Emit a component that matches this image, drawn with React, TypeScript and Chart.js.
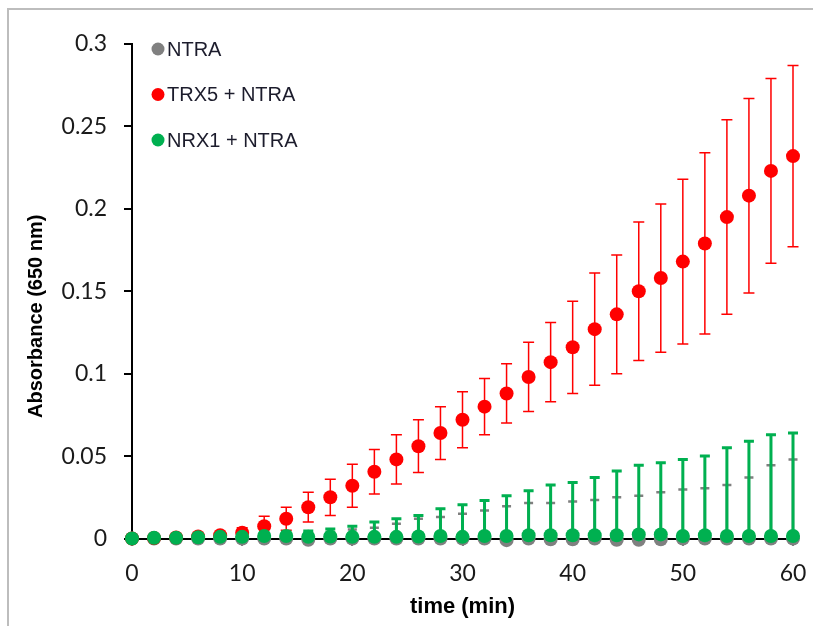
import React, { useEffect, useRef } from "react";
import { Chart, registerables } from "chart.js";

Chart.register(...registerables);

// ---- data ----
const times = [0, 2, 4, 6, 8, 10, 12, 14, 16, 18, 20, 22, 24, 26, 28, 30, 32, 34, 36, 38, 40, 42, 44, 46, 48, 50, 52, 54, 56, 58, 60];

const seriesLabels = ["NTRA", "TRX5 + NTRA", "NRX1 + NTRA"];

const ntraMean = [0, 0, 0, 0, 0, 0, 0, 0, -0.0008, 0, 0, 0, 0, 0, 0, 0, 0, -0.001, 0, -0.0005, -0.0005, 0, -0.0008, -0.0008, -0.0005, 0, 0, 0, 0, 0, 0];
const ntraErr = [0, 0.0003, 0.0005, 0.0008, 0.001, 0.0015, 0.002, 0.0025, 0.0035, 0.004, 0.0055, 0.0065, 0.009, 0.012, 0.013, 0.015, 0.017, 0.0206, 0.0216, 0.022, 0.023, 0.0234, 0.0258, 0.0268, 0.0285, 0.0297, 0.0305, 0.0325, 0.037, 0.0444, 0.048];

const trx5Mean = [0, 0.0003, 0.0006, 0.0012, 0.002, 0.0035, 0.0075, 0.012, 0.019, 0.025, 0.032, 0.0405, 0.048, 0.056, 0.064, 0.072, 0.08, 0.088, 0.098, 0.107, 0.116, 0.127, 0.136, 0.15, 0.158, 0.168, 0.179, 0.195, 0.208, 0.223, 0.232];
const trx5Err = [0, 0.0003, 0.0005, 0.001, 0.0015, 0.003, 0.006, 0.007, 0.009, 0.011, 0.013, 0.0135, 0.015, 0.016, 0.016, 0.017, 0.017, 0.018, 0.021, 0.024, 0.028, 0.034, 0.036, 0.042, 0.045, 0.05, 0.055, 0.059, 0.059, 0.056, 0.055];

const nrx1Mean = [0, 0.0005, 0.0005, 0.0008, 0.001, 0.001, 0.0015, 0.0015, 0.001, 0.0012, 0.001, 0.001, 0.001, 0.0012, 0.0015, 0.001, 0.0015, 0.0015, 0.002, 0.002, 0.002, 0.002, 0.002, 0.0025, 0.0025, 0.0015, 0.002, 0.0015, 0.0015, 0.0015, 0.0015];
const nrx1Err = [0, 0.0005, 0.0005, 0.0008, 0.001, 0.0012, 0.002, 0.0025, 0.0035, 0.0045, 0.0065, 0.009, 0.011, 0.0128, 0.0165, 0.0195, 0.0215, 0.0245, 0.027, 0.0305, 0.032, 0.035, 0.039, 0.042, 0.0435, 0.0465, 0.048, 0.0535, 0.0575, 0.0615, 0.0625];

const xTicks = [0, 10, 20, 30, 40, 50, 60];
const yTicks = [0, 0.05, 0.1, 0.15, 0.2, 0.25, 0.3];

const xTitle = "time (min)";
const yTitle = "Absorbance (650 nm)";

// ---- plugins ----
const errorBarPlugin = {
  id: "errorBars",
  beforeDatasetsDraw(chart: any) {
    const { ctx } = chart;
    const yScale = chart.scales.y;
    const order = [0, 1, 2];
    for (const i of order) {
      const ds = chart.data.datasets[i];
      const meta = chart.getDatasetMeta(i);
      if (!ds || !meta || meta.hidden) continue;
      const errs: number[] = ds.errors;
      ctx.save();
      ctx.strokeStyle = ds.errorColor;
      ctx.lineWidth = ds.errorWidth;
      ctx.lineCap = "butt";
      meta.data.forEach((pt: any, j: number) => {
        const e = errs[j];
        if (!e) return;
        const v = ds.data[j].y;
        const x = pt.x;
        const yc = yScale.getPixelForValue(v);
        const yTop = yScale.getPixelForValue(v + e);
        const yBot = ds.plusOnly ? yc : yScale.getPixelForValue(v - e);
        const cw = ds.capHalf;
        ctx.beginPath();
        ctx.moveTo(x, yBot);
        ctx.lineTo(x, yTop);
        ctx.moveTo(x - cw, yTop);
        ctx.lineTo(x + cw, yTop);
        if (!ds.plusOnly) {
          ctx.moveTo(x - cw, yBot);
          ctx.lineTo(x + cw, yBot);
        }
        ctx.stroke();
      });
      ctx.restore();
    }
  },
};

const legendPlugin = {
  id: "innerLegend",
  afterDraw(chart: any) {
    const { ctx, chartArea } = chart;
    ctx.save();
    ctx.font = "20px 'Liberation Sans', Arial, sans-serif";
    ctx.textBaseline = "middle";
    ctx.textAlign = "left";
    chart.data.datasets.forEach((ds: any, i: number) => {
      const cy = chartArea.top + 5 + i * 45.5;
      const cx = chartArea.left + 26;
      ctx.beginPath();
      ctx.fillStyle = ds.backgroundColor;
      ctx.arc(cx, cy, 6.5, 0, Math.PI * 2);
      ctx.fill();
      ctx.fillStyle = "#1c1c2c";
      ctx.fillText(ds.label, cx + 9, cy + 1);
    });
    ctx.restore();
  },
};

export default function App() {
  const canvasRef = useRef<HTMLCanvasElement | null>(null);

  useEffect(() => {
    const canvas = canvasRef.current;
    if (!canvas) return;

    const mk = (ys: number[]) => times.map((t, i) => ({ x: t, y: ys[i] }));

    const chart = new Chart(canvas, {
      type: "scatter",
      data: {
        datasets: [
          {
            label: seriesLabels[0],
            data: mk(ntraMean),
            backgroundColor: "#808080",
            borderColor: "#808080",
            pointRadius: 7,
            pointBorderWidth: 0,
            pointHoverRadius: 7,
            clip: false,
            order: 3,
            errors: ntraErr,
            errorColor: "#7f7f7f",
            errorWidth: 2.5,
            capHalf: 4.5,
            plusOnly: true,
          } as any,
          {
            label: seriesLabels[1],
            data: mk(trx5Mean),
            backgroundColor: "#ff0000",
            borderColor: "#ff0000",
            pointRadius: 7,
            pointBorderWidth: 0,
            pointHoverRadius: 7,
            clip: false,
            order: 2,
            errors: trx5Err,
            errorColor: "#ff0000",
            errorWidth: 1.5,
            capHalf: 5.5,
            plusOnly: false,
          } as any,
          {
            label: seriesLabels[2],
            data: mk(nrx1Mean),
            backgroundColor: "#00b050",
            borderColor: "#00b050",
            pointRadius: 7,
            pointBorderWidth: 0,
            pointHoverRadius: 7,
            clip: false,
            order: 1,
            errors: nrx1Err,
            errorColor: "#00b050",
            errorWidth: 3,
            capHalf: 5,
            plusOnly: true,
          } as any,
        ],
      },
      options: {
        animation: false,
        responsive: false,
        maintainAspectRatio: false,
        devicePixelRatio: 1,
        layout: { padding: { left: 10, right: 20, top: 44, bottom: 6 } },
        plugins: {
          legend: { display: false },
          tooltip: { enabled: false },
          title: { display: false },
        },
        scales: {
          x: {
            type: "linear",
            min: 0,
            max: 60,
            afterBuildTicks: (s: any) => {
              s.ticks = xTicks.map((v) => ({ value: v }));
            },
            afterFit: (s: any) => {
              s.height = 81.5;
              s.paddingLeft = 0;
              s.paddingRight = 0;
            },
            ticks: {
              color: "#1a1a1a",
              font: { family: "Lato, 'Liberation Sans', sans-serif", size: 23 },
              padding: 14,
              callback: (v: any) => String(v),
            },
            grid: {
              drawOnChartArea: false,
              drawTicks: true,
              tickLength: 7,
              color: "#000",
              lineWidth: 2,
            },
            border: { display: true, color: "#000", width: 2 },
            title: {
              display: true,
              text: xTitle,
              color: "#000",
              font: { family: "'Liberation Sans', Arial, sans-serif", size: 22, weight: "bold" },
              padding: { top: 0, bottom: 0 },
            },
          },
          y: {
            type: "linear",
            min: 0,
            max: 0.3,
            afterBuildTicks: (s: any) => {
              s.ticks = yTicks.map((v) => ({ value: v }));
            },
            afterFit: (s: any) => {
              s.width = 122;
            },
            ticks: {
              color: "#1a1a1a",
              font: { family: "Lato, 'Liberation Sans', sans-serif", size: 23 },
              padding: 17,
              callback: (v: any) => String(Number(Number(v).toFixed(2))),
            },
            grid: {
              drawOnChartArea: false,
              drawTicks: true,
              tickLength: 8,
              color: "#000",
              lineWidth: 2,
            },
            border: { display: true, color: "#000", width: 2 },
            title: {
              display: true,
              text: yTitle + "         ",
              color: "#000",
              font: { family: "'Liberation Sans', Arial, sans-serif", size: 20, weight: "bold" },
              padding: { top: 14, bottom: 0 },
            },
          },
        },
      },
      plugins: [errorBarPlugin, legendPlugin],
    } as any);

    return () => chart.destroy();
  }, []);

  return (
    <div
      style={{
        position: "absolute",
        left: 0,
        top: 0,
        width: 813,
        height: 626,
        overflow: "hidden",
        background: "#fff",
      }}
    >
      <div
        style={{
          position: "absolute",
          left: 7,
          top: 8,
          width: 900,
          height: 800,
          border: "2px solid #bdbdbd",
          boxSizing: "border-box",
        }}
      />
      <canvas
        ref={canvasRef}
        width={813}
        height={626}
        style={{ position: "absolute", left: 0, top: 0, width: 813, height: 626 }}
      />
    </div>
  );
}
